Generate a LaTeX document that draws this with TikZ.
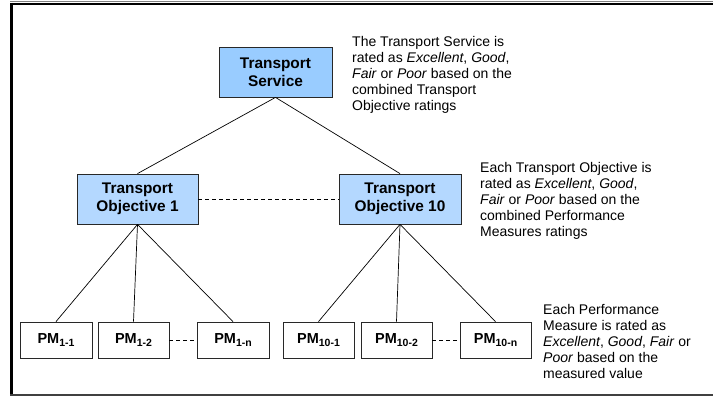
\documentclass[tikz,border=0pt]{standalone}
\usepackage{fontspec}
\setmainfont{Liberation Sans}
\definecolor{svcblue}{RGB}{153,204,255}
\definecolor{objblue}{RGB}{180,216,255}
\definecolor{edgegray}{RGB}{40,40,40}
\begin{document}
\begin{tikzpicture}[x=1pt,y=-1pt,
  box/.style={draw=edgegray,line width=0.8pt,inner sep=0pt,align=center,
    font=\fontsize{15.4}{18}\selectfont\bfseries},
  bluebig/.style={box,fill=svcblue,minimum height=50pt},
  blueobj/.style={box,fill=objblue,minimum height=50pt},
  pmbox/.style={box,fill=white,minimum height=36pt,minimum width=71pt,
    font=\fontsize{14.5}{16}\selectfont\bfseries},
  conn/.style={line width=0.7pt,black},
  dconn/.style={line width=0.7pt,black,dash pattern=on 4pt off 3pt},
  note/.style={anchor=north west,inner sep=0pt,align=left,
    font=\fontsize{14}{16}\selectfont}]
\newcommand{\pmsub}[1]{PM\raisebox{-2.8pt}{\fontsize{10.5}{10.5}\selectfont #1}}
\useasboundingbox (0,0) rectangle (713,396);
% frame
\draw[gray,line width=1pt] (10,2) -- (713,2);
\draw[black,line width=2pt] (10,4) -- (713,4);
\draw[black,line width=3pt] (11.5,3) -- (11.5,394);
\draw[black!75,line width=2pt] (10,394.5) -- (713,394.5);
% boxes
\node[bluebig,minimum width=113pt] (svc) at (275.5,72) {Transport\\Service};
\node[blueobj,minimum width=121pt] (o1) at (137.5,199) {Transport\\Objective 1};
\node[blueobj,minimum width=122pt] (o10) at (400,199) {Transport\\Objective 10};
\node[pmbox,minimum width=72pt] (p11) at (56,340) {\pmsub{1-1}};
\node[pmbox] (p12) at (133.5,340) {\pmsub{1-2}};
\node[pmbox,minimum width=72pt] (p1n) at (233,340) {\pmsub{1-n}};
\node[pmbox] (p101) at (318.5,340) {\pmsub{10-1}};
\node[pmbox] (p102) at (396.5,340) {\pmsub{10-2}};
\node[pmbox] (p10n) at (495.5,340) {\pmsub{10-n}};
% connectors
\draw[conn] (svc.south) -- (o1.north);
\draw[conn] (svc.south) -- (o10.north);
\draw[conn] (o1.south) -- (p11.north);
\draw[conn] (o1.south) -- (p12.north);
\draw[conn] (o1.south) -- (p1n.north);
\draw[conn] (o10.south) -- (p101.north);
\draw[conn] (o10.south) -- (p102.north);
\draw[conn] (o10.south) -- (p10n.north);
\draw[dconn] (o1.east) -- (o10.west);
\draw[dconn] (p12.east) -- (p1n.west);
\draw[dconn] (p102.east) -- (p10n.west);
% notes
\node[note] (n1) at (352,36) {The Transport Service is\\rated as \textit{Excellent}, \textit{Good},\\\textit{Fair} or \textit{Poor} based on the\\combined Transport\\Objective ratings};
\node[note] (n2) at (480,162) {Each Transport Objective is\\rated as \textit{Excellent}, \textit{Good},\\\textit{Fair} or \textit{Poor} based on the\\combined Performance\\Measures ratings};
\node[note] (n3) at (543,304) {Each Performance\\Measure is rated as\\\textit{Excellent}, \textit{Good}, \textit{Fair} or\\\textit{Poor} based on the\\measured value};
\end{tikzpicture}
\end{document}
